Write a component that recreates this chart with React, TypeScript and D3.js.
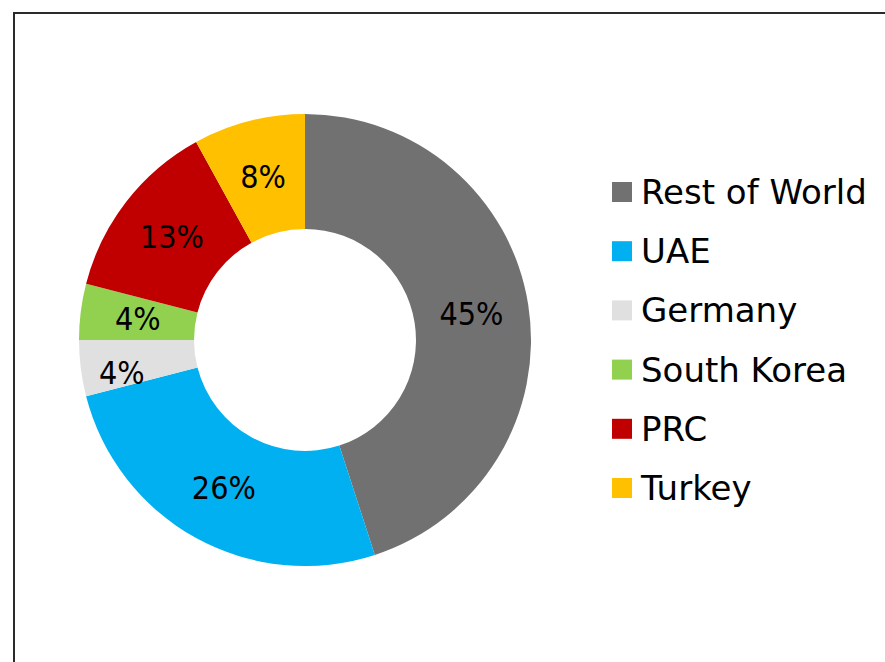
import React from "react";
import * as d3 from "d3";

const categories = ["Rest of World", "UAE", "Germany", "South Korea", "PRC", "Turkey"];
const values = [45, 26, 4, 4, 13, 8];
const labels = ["45%", "26%", "4%", "4%", "13%", "8%"];
const colors = ["#717171", "#00B0F0", "#E0E0E0", "#92D050", "#C00000", "#FFC000"];

const W = 885;
const H = 662;
const LABEL_FONT = "'DejaVu Sans Condensed', 'DejaVu Sans', sans-serif";
const LEGEND_FONT = "'DejaVu Sans', sans-serif";

export default function App() {
  const cx = 305;
  const cy = 340;
  const outerR = 226;
  const innerR = 111;

  const pie = d3.pie<number>().sort(null).value((d) => d)(values);
  const arc = d3.arc<d3.PieArcDatum<number>>().innerRadius(innerR).outerRadius(outerR);

  // Excel nudges the crowded Germany label outward
  const labelNudge = (i: number): [number, number] => (i === 2 ? [-16, 12] : [0, 0]);

  const legendY = d3.scalePoint<string>().domain(categories).range([192, 488]);

  return (
    <svg
      width={W}
      height={H}
      style={{ position: "absolute", left: 0, top: 0, background: "#fff" }}
    >
      <rect x={14} y={13} width={W + 10} height={H + 10} fill="#fff" stroke="#2a2a2a" strokeWidth={2} />
      <g transform={`translate(${cx},${cy})`}>
        {pie.map((d, i) => (
          <path key={i} d={arc(d) || ""} fill={colors[i]} />
        ))}
        {pie.map((d, i) => {
          const [x, y] = arc.centroid(d);
          const [dx, dy] = labelNudge(i);
          return (
            <text
              key={i}
              x={x + dx}
              y={y + dy}
              textAnchor="middle"
              dominantBaseline="central"
              fontFamily={LABEL_FONT}
              fontSize={32}
              fill="#000"
            >
              {labels[i]}
            </text>
          );
        })}
      </g>
      {categories.map((c, i) => {
        const y = legendY(c) as number;
        return (
          <g key={c}>
            <rect x={612} y={y - 10} width={20} height={20} fill={colors[i]} />
            <text x={641} y={y} dominantBaseline="central" fontFamily={LEGEND_FONT} fontSize={34} fill="#000">
              {c}
            </text>
          </g>
        );
      })}
    </svg>
  );
}
